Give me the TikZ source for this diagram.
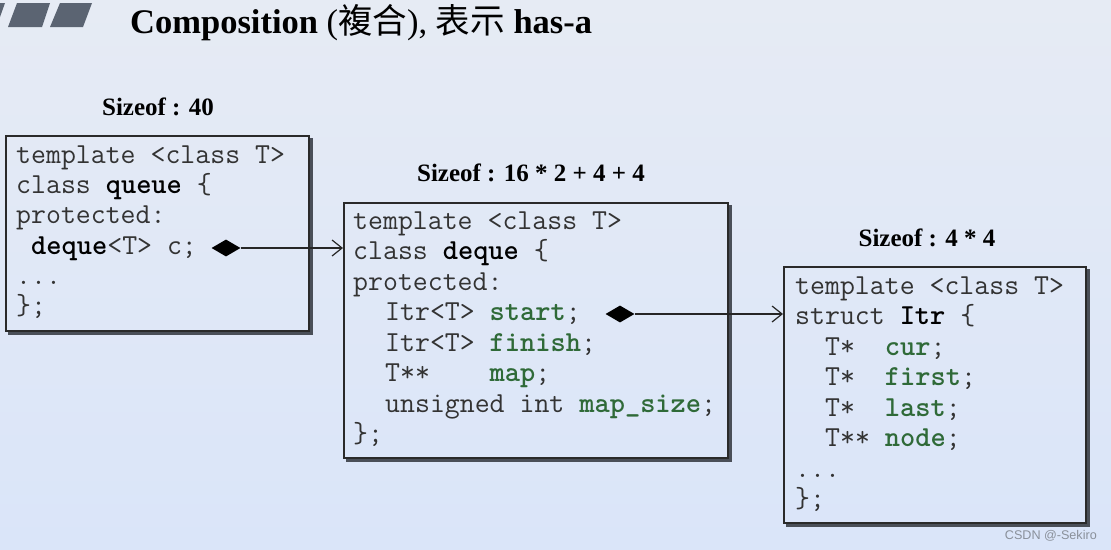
\documentclass[tikz,border=0pt]{standalone}
\usepackage{fontspec}
\setmainfont{Liberation Serif}
\setsansfont{Liberation Sans}
\newfontfamily\cjk{Noto Sans CJK TC}
\usetikzlibrary{shapes.geometric,arrows.meta}
\definecolor{bgtop}{HTML}{E6EBF4}
\definecolor{bgbot}{HTML}{DAE5F9}
\definecolor{codegray}{HTML}{333333}
\definecolor{codegreen}{HTML}{2F6A38}
\definecolor{bargray}{HTML}{5B6472}
\definecolor{boxline}{HTML}{2A2A2A}
\definecolor{shadowc}{HTML}{4A4F58}
\definecolor{wmark}{HTML}{8A909A}
\newcommand\cbold[1]{{\bfseries\color{black}#1}}
\newcommand\cgreen[1]{{\bfseries\color{codegreen}#1}}
\tikzset{
  codeline/.style={font=\ttfamily\fontsize{29pt}{30pt}\selectfont, text=codegray, anchor=base west, inner sep=0pt},
  sizelabel/.style={font=\bfseries\fontsize{25pt}{30pt}\selectfont, text=black, anchor=base, inner sep=0pt},
  classbox/.style={draw=boxline, line width=1.5pt, anchor=north west, inner sep=0pt},
  shadowline/.style={draw=shadowc, line width=3pt},
  comp/.style={diamond, fill=black, minimum width=29pt, minimum height=17pt, inner sep=0pt},
  link/.style={draw=black!85, line width=1.2pt, -{Straight Barb[length=10pt,width=16pt,line width=1.2pt]}}
}
\begin{document}
\begin{tikzpicture}[x=1pt,y=-1pt]
\useasboundingbox (0,0) rectangle (1111,549);
\shade[top color=bgtop, bottom color=bgbot] (0,0) rectangle (1111,549);
% title bars
\fill[bargray] (0,3) -- (5,3) -- (0,17) -- cycle;
\fill[bargray] (17,3) -- (50,3) -- (42,27) -- (8,27) -- cycle;
\fill[bargray] (60,3) -- (92,3) -- (83,27) -- (50,27) -- cycle;
\node[anchor=base west, inner sep=0pt, font=\fontsize{34.5pt}{40pt}\selectfont] (title) at (130,33)
  {{\bfseries Composition} ({\cjk 複合}), {\cjk 表示} {\bfseries has-a}};

% box 1 : queue
\node[sizelabel] (s1) at (158,115) {Sizeof : 40};
\node[classbox, minimum width=303pt, minimum height=195pt] (q) at (5,135) {};
\draw[shadowline] ([xshift=2.2pt,yshift=-3pt]q.north east) -- ([xshift=2.2pt,yshift=-2.2pt]q.south east) -- ([xshift=3pt,yshift=-2.2pt]q.south west);
\node[codeline] (q1) at (16,163) {template <class T>};
\node[codeline] (q2) at (16,193.3) {class \cbold{queue} \{};
\node[codeline] (q3) at (16,223.6) {protected:};
\node[codeline] (q4) at (31,254) {\cbold{deque}<T> c;};
\node[codeline] (q5) at (16,284.3) {...};
\node[codeline] (q6) at (16,314.6) {\};};

% box 2 : deque
\node[sizelabel] (s2) at (531,181) {Sizeof : 16 * 2 + 4 + 4};
\node[classbox, minimum width=384pt, minimum height=255pt] (d) at (343,202) {};
\draw[shadowline] ([xshift=2.2pt,yshift=-3pt]d.north east) -- ([xshift=2.2pt,yshift=-2.2pt]d.south east) -- ([xshift=3pt,yshift=-2.2pt]d.south west);
\node[codeline] (d1) at (353,229) {template <class T>};
\node[codeline] (d2) at (353,259.5) {class \cbold{deque} \{};
\node[codeline] (d3) at (353,290) {protected:};
\node[codeline] (d4) at (385,320.5) {Itr<T> \cgreen{start};};
\node[codeline] (d5) at (385,351) {Itr<T> \cgreen{finish};};
\node[codeline] (d6) at (385,381.5) {T**~~~~\cgreen{map};};
\node[codeline] (d7) at (385,412) {unsigned int \cgreen{map\_size};};
\node[codeline] (d8) at (353,442.5) {\};};

% box 3 : Itr
\node[sizelabel] (s3) at (927,246) {Sizeof : 4 * 4};
\node[classbox, minimum width=302pt, minimum height=256pt] (it) at (783,266) {};
\draw[shadowline] ([xshift=2.2pt,yshift=-3pt]it.north east) -- ([xshift=2.2pt,yshift=-2.2pt]it.south east) -- ([xshift=3pt,yshift=-2.2pt]it.south west);
\node[codeline] (i1) at (795,294) {template <class T>};
\node[codeline] (i2) at (795,324.5) {struct \cbold{Itr} \{};
\node[codeline] (i3) at (825,355) {T*~~\cgreen{cur};};
\node[codeline] (i4) at (825,385.5) {T*~~\cgreen{first};};
\node[codeline] (i5) at (825,416) {T*~~\cgreen{last};};
\node[codeline] (i6) at (825,446.5) {T**~\cgreen{node};};
\node[codeline] (i7) at (795,477) {...};
\node[codeline] (i8) at (795,507.5) {\};};

% composition links
\node[comp] (c1) at (226,248) {};
\draw[link] (c1.east) -- (c1.east -| d.west);
\node[comp] (c2) at (620,314) {};
\draw[link] (c2.east) -- (c2.east -| it.west);

% watermark
\node[anchor=base east, inner sep=0pt, text=wmark, font=\sffamily\fontsize{12.6pt}{14pt}\selectfont] (wm) at (1097,539) {CSDN @-Sekiro};
\end{tikzpicture}
\end{document}
